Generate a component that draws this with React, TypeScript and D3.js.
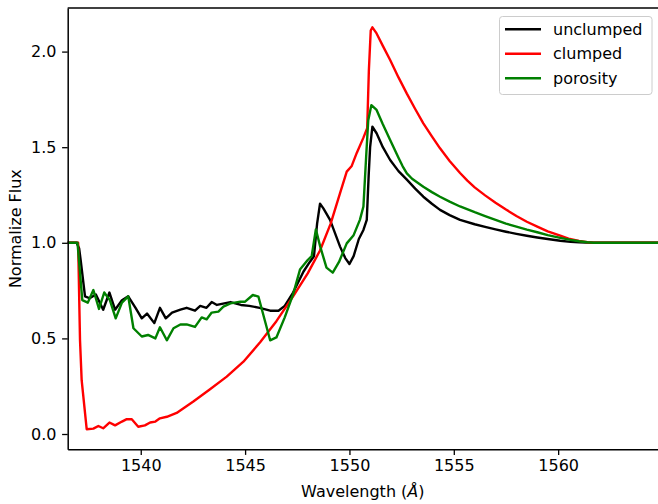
import * as d3 from 'd3'
import { useEffect, useRef } from 'react'

const width = 658
const height = 504
const plotLeft = 67.7
const plotRight = 660
const plotTop = 8
const plotBottom = 449.3

const xTicks = [1540, 1545, 1550, 1555, 1560]
const yTicks = [0.0, 0.5, 1.0, 1.5, 2.0]

// [wavelength, normalized flux]
const unclumped: [number, number][] = [
  [1536.3, 1.0], [1536.93, 1.0], [1537.05, 0.97], [1537.12, 0.91], [1537.33, 0.72],
  [1537.55, 0.71], [1537.85, 0.73], [1538.2, 0.65], [1538.5, 0.74], [1538.77, 0.65],
  [1539.1, 0.7], [1539.4, 0.72], [1539.75, 0.66], [1540.05, 0.605], [1540.3, 0.63],
  [1540.65, 0.58], [1540.92, 0.66], [1541.2, 0.605], [1541.5, 0.635], [1541.9, 0.65],
  [1542.2, 0.66], [1542.6, 0.645], [1542.85, 0.67], [1543.15, 0.66], [1543.4, 0.69],
  [1543.65, 0.675], [1544.3, 0.69], [1544.8, 0.675], [1545.2, 0.67], [1545.7, 0.66],
  [1546.2, 0.645], [1546.6, 0.645], [1546.9, 0.67], [1547.3, 0.74], [1547.8, 0.85],
  [1548.1, 0.9], [1548.3, 0.93], [1548.45, 1.1], [1548.59, 1.205], [1548.75, 1.18],
  [1549.07, 1.12], [1549.55, 0.98], [1549.8, 0.92], [1550.0, 0.889], [1550.2, 0.93],
  [1550.45, 1.02], [1550.67, 1.067], [1550.83, 1.12], [1550.92, 1.35], [1550.99, 1.5],
  [1551.1, 1.607], [1551.3, 1.573], [1551.6, 1.5], [1551.95, 1.433], [1552.35, 1.375],
  [1552.75, 1.33], [1553.15, 1.283], [1553.54, 1.241], [1553.95, 1.204], [1554.34, 1.172],
  [1554.8, 1.145], [1555.3, 1.12], [1556, 1.097], [1556.5, 1.083], [1557, 1.07],
  [1557.5, 1.058], [1558, 1.047], [1558.5, 1.037], [1559, 1.028], [1559.5, 1.02],
  [1560.1, 1.011], [1560.6, 1.005], [1561, 1.002], [1561.7, 1.0], [1565, 1.0],
]

const clumped: [number, number][] = [
  [1536.3, 1.0], [1537.0, 1.0], [1537.09, 0.49], [1537.17, 0.28], [1537.41, 0.025],
  [1537.73, 0.028], [1537.97, 0.042], [1538.2, 0.03], [1538.5, 0.06], [1538.77, 0.045],
  [1539.1, 0.065], [1539.33, 0.078], [1539.57, 0.077], [1539.88, 0.038], [1540.2, 0.045],
  [1540.45, 0.06], [1540.7, 0.065], [1540.92, 0.082], [1541.25, 0.09], [1541.72, 0.11],
  [1542.52, 0.17], [1543.32, 0.234], [1544.12, 0.3], [1544.92, 0.378], [1545.72, 0.48],
  [1546.5, 0.59], [1547.3, 0.72], [1548.0, 0.84], [1548.59, 0.96], [1549.1, 1.1],
  [1549.55, 1.26], [1549.87, 1.372], [1550.1, 1.4], [1550.35, 1.47], [1550.67, 1.55],
  [1550.85, 1.6], [1550.93, 1.9], [1551.02, 2.11], [1551.1, 2.127], [1551.3, 2.095],
  [1551.6, 2.03], [1551.95, 1.956], [1552.35, 1.865], [1552.75, 1.78], [1553.15, 1.7],
  [1553.54, 1.625], [1553.95, 1.557], [1554.34, 1.494], [1554.8, 1.428], [1555.3, 1.365],
  [1555.65, 1.325], [1556, 1.29], [1556.5, 1.248], [1557, 1.21], [1557.5, 1.174],
  [1558, 1.14], [1558.5, 1.11], [1559, 1.085], [1559.5, 1.06], [1560.1, 1.037],
  [1560.5, 1.022], [1561, 1.01], [1561.4, 1.003], [1561.7, 1.0], [1565, 1.0],
]

const porosity: [number, number][] = [
  [1536.3, 1.0], [1536.97, 1.0], [1537.2, 0.7], [1537.46, 0.687], [1537.73, 0.753],
  [1538.0, 0.654], [1538.25, 0.74], [1538.52, 0.7], [1538.8, 0.605], [1539.1, 0.687],
  [1539.4, 0.72], [1539.65, 0.553], [1540.05, 0.51], [1540.35, 0.518], [1540.7, 0.5],
  [1540.92, 0.558], [1541.25, 0.49], [1541.57, 0.553], [1541.9, 0.573], [1542.2, 0.573],
  [1542.6, 0.56], [1542.92, 0.61], [1543.16, 0.6], [1543.4, 0.635], [1543.72, 0.64],
  [1543.96, 0.666], [1544.3, 0.683], [1544.77, 0.692], [1545.0, 0.692], [1545.37, 0.727],
  [1545.64, 0.718], [1546.2, 0.49], [1546.5, 0.505], [1546.9, 0.61], [1547.3, 0.73],
  [1547.63, 0.86], [1548.0, 0.91], [1548.19, 0.93], [1548.39, 1.07], [1548.6, 0.98],
  [1548.9, 0.87], [1549.2, 0.844], [1549.5, 0.9], [1549.87, 0.997], [1550.2, 1.04],
  [1550.5, 1.12], [1550.67, 1.19], [1550.8, 1.45], [1550.9, 1.64], [1551.05, 1.72],
  [1551.3, 1.695], [1551.6, 1.62], [1551.95, 1.538], [1552.35, 1.445], [1552.55, 1.4],
  [1552.75, 1.363], [1553.0, 1.335], [1553.54, 1.293], [1553.95, 1.265], [1554.34, 1.241],
  [1554.8, 1.215], [1555.3, 1.19], [1556, 1.16], [1556.5, 1.14], [1557, 1.12],
  [1557.5, 1.1], [1558, 1.085], [1558.5, 1.069], [1559, 1.055], [1559.5, 1.04],
  [1560.1, 1.026], [1560.6, 1.015], [1561, 1.008], [1561.4, 1.003], [1561.7, 1.0],
  [1565, 1.0],
]

const series = [
  { name: 'unclumped', color: 'black', data: unclumped },
  { name: 'clumped', color: 'red', data: clumped },
  { name: 'porosity', color: 'green', data: porosity },
]

export default function App() {
  const ref = useRef(null)

  useEffect(() => {
    const svg = d3.select(ref.current)
    svg.selectAll('*').remove()

    const x = d3.scaleLinear([1536.5, 1564.88], [plotLeft, plotRight])
    const y = d3.scaleLinear([-0.08, 2.228], [plotBottom, plotTop])

    svg
      .append('defs')
      .append('clipPath')
      .attr('id', 'plot-clip')
      .append('rect')
      .attr('x', plotLeft)
      .attr('y', plotTop)
      .attr('width', plotRight - plotLeft)
      .attr('height', plotBottom - plotTop)

    const line = d3
      .line<[number, number]>()
      .x(d => x(d[0]))
      .y(d => y(d[1]))

    // curves
    const lines = svg.append('g').attr('clip-path', 'url(#plot-clip)')
    series.forEach(s => {
      lines
        .append('path')
        .attr('fill', 'none')
        .attr('stroke', s.color)
        .attr('stroke-width', 2.4)
        .attr('stroke-linejoin', 'round')
        .attr('d', line(s.data))
    })

    // axes
    svg
      .append('g')
      .attr('transform', `translate(0,${plotBottom})`)
      .call(
        d3
          .axisBottom(x)
          .tickValues(xTicks)
          .tickFormat(d3.format('d'))
          .tickSize(5.6)
          .tickPadding(5)
          .tickSizeOuter(0)
      )
      .call(g => g.select('.domain').attr('stroke-width', 1.5))
      .call(g => g.selectAll('.tick line').attr('stroke-width', 1.3))
      .call(g =>
        g.selectAll('.tick text').attr('font-size', 16).attr('font-family', 'DejaVu Sans').attr('fill', '#000')
      )

    svg
      .append('g')
      .attr('transform', `translate(${plotLeft},0)`)
      .call(
        d3
          .axisLeft(y)
          .tickValues(yTicks)
          .tickFormat(d3.format('.1f'))
          .tickSize(5.6)
          .tickPadding(5.6)
          .tickSizeOuter(0)
      )
      .call(g => g.select('.domain').attr('stroke-width', 1.5))
      .call(g => g.selectAll('.tick line').attr('stroke-width', 1.3))
      .call(g =>
        g.selectAll('.tick text').attr('font-size', 16).attr('font-family', 'DejaVu Sans').attr('fill', '#000')
      )

    // top spine
    svg
      .append('line')
      .attr('x1', plotLeft)
      .attr('x2', plotRight)
      .attr('y1', plotTop)
      .attr('y2', plotTop)
      .attr('stroke', 'black')
      .attr('stroke-width', 1.5)

    // axis labels
    const xLabel = svg
      .append('text')
      .attr('x', (plotLeft + 658) / 2)
      .attr('y', 497)
      .attr('text-anchor', 'middle')
      .attr('font-family', 'DejaVu Sans')
      .attr('font-size', 16)
      .attr('fill', '#000')
    xLabel.append('tspan').text('Wavelength (')
    xLabel.append('tspan').attr('font-style', 'italic').text('Å')
    xLabel.append('tspan').text(')')

    svg
      .append('text')
      .attr('transform', `translate(21,${(plotTop + plotBottom) / 2}) rotate(-90)`)
      .attr('text-anchor', 'middle')
      .attr('font-family', 'DejaVu Sans')
      .attr('font-size', 16)
      .attr('fill', '#000')
      .text('Normalize Flux')

    // legend
    const legend = svg.append('g')
    legend
      .append('rect')
      .attr('x', 499.5)
      .attr('y', 16.5)
      .attr('width', 152.5)
      .attr('height', 78)
      .attr('rx', 3)
      .attr('fill', 'white')
      .attr('fill-opacity', 0.8)
      .attr('stroke', '#cccccc')
      .attr('stroke-width', 1)
    series.forEach((s, i) => {
      const ry = 29.3 + i * 24.5
      legend
        .append('line')
        .attr('x1', 505)
        .attr('x2', 541)
        .attr('y1', ry)
        .attr('y2', ry)
        .attr('stroke', s.color)
        .attr('stroke-width', 2.4)
      legend
        .append('text')
        .attr('x', 553)
        .attr('y', ry + 5.6)
        .attr('font-family', 'DejaVu Sans')
        .attr('font-size', 16)
        .attr('fill', '#000')
        .text(s.name)
    })
  }, [])

  return (
    <svg
      ref={ref}
      width={width}
      height={height}
      viewBox={`0 0 ${width} ${height}`}
      style={{ position: 'absolute', left: 0, top: 0, background: 'white' }}
    ></svg>
  )
}
